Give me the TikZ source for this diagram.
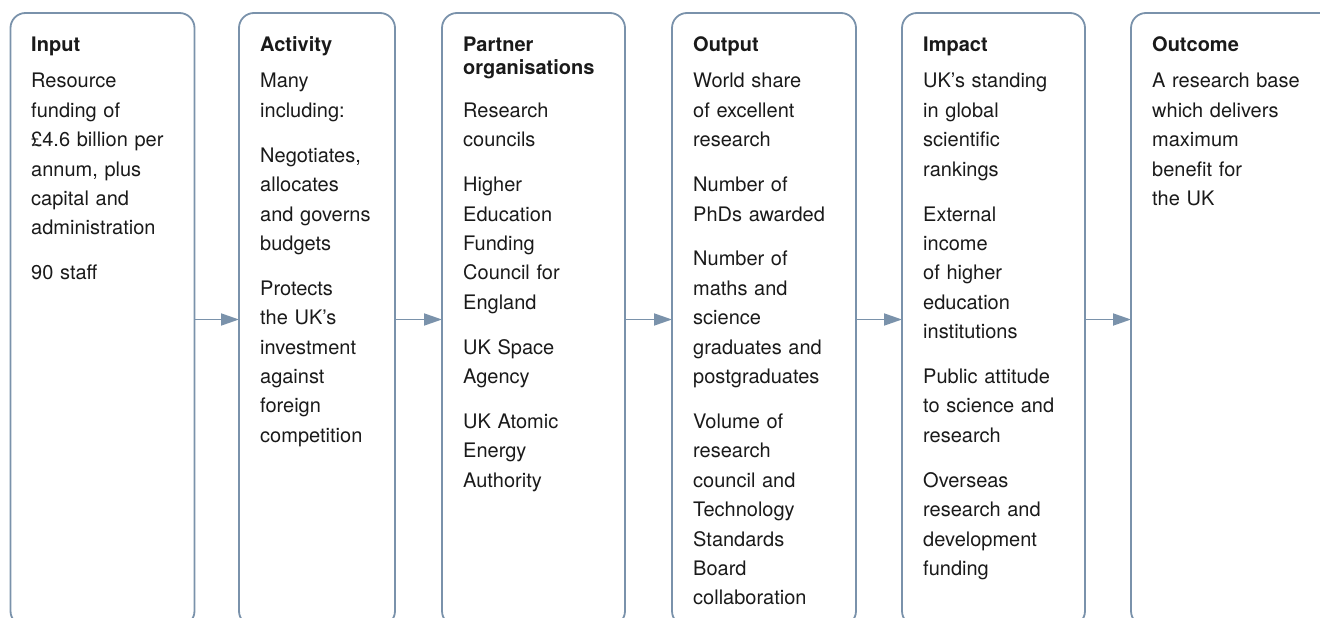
\documentclass[tikz,border=0pt]{standalone}
\usepackage{fontspec}
\setmainfont{TeX Gyre Heros}
\usetikzlibrary{arrows.meta}

\definecolor{framecol}{RGB}{122,146,171}
\definecolor{textcol}{RGB}{26,26,26}

\tikzset{
  stage/.style={draw=framecol, line width=1.8pt, rounded corners=15pt,
    minimum height=613pt, inner sep=0pt, outer sep=0pt},
  flow/.style={draw=framecol, line width=1.8pt,
    -{Triangle[length=18pt,width=12pt]}},
  heading/.style={anchor=base west, inner sep=0pt, text=textcol, text width=175pt,
    align=left, font=\fontsize{20}{22.5}\selectfont\bfseries},
  body/.style={anchor=base west, inner sep=0pt, text=textcol, text width=175pt,
    align=left, font=\fontsize{20}{29.4}\selectfont},
}
\newcommand{\pargap}{\\[15.5pt]}

\begin{document}
\begin{tikzpicture}[x=1pt, y=-1pt]
  \useasboundingbox (0,0) rectangle (1320,618);
  \clip (0,0) rectangle (1320,618);

  % Draw the six stages (open at the bottom)
  \node[stage, minimum width=184pt] (input)    at (102.5,319.5) {};
  \node[stage, minimum width=156pt] (activity) at (317,319.5) {};
  \node[stage, minimum width=183pt] (partner)  at (533.5,319.5) {};
  \node[stage, minimum width=184pt] (output)   at (764,319.5) {};
  \node[stage, minimum width=183pt] (impact)   at (993.5,319.5) {};
  \node[stage, minimum width=214pt] (outcome)  at (1238,319.5) {};

  % Headings
  \node[heading] (inputhead)    at (31,52)   {Input};
  \node[heading] (activityhead) at (260,52)  {Activity};
  \node[heading] (partnerhead)  at (463,52)  {Partner\\organisations};
  \node[heading] (outputhead)   at (693,52)  {Output};
  \node[heading] (impacthead)   at (923,52)  {Impact};
  \node[heading] (outcomehead)  at (1152,52) {Outcome};

  % Texts
  \node[body] (inputtext) at (31,88) {Resource\\funding of\\£4.6 billion per\\annum, plus\\capital and\\administration\pargap
    90 staff};
  \node[body] (activitytext) at (260,88) {Many\\including:\pargap
    Negotiates,\\allocates\\and governs\\budgets\pargap
    Protects\\the UK's\\investment\\against\\foreign\\competition};
  \node[body] (partnertext) at (463,117.4) {Research\\councils\pargap
    Higher\\Education\\Funding\\Council for\\England\pargap
    UK Space\\Agency\pargap
    UK Atomic\\Energy\\Authority};
  \node[body] (outputtext) at (693,88) {World share\\of excellent\\research\pargap
    Number of\\PhDs awarded\pargap
    Number of\\maths and\\science\\graduates and\\postgraduates\pargap
    Volume of\\research\\council and\\Technology\\Standards\\Board\\collaboration};
  \node[body] (impacttext) at (923,88) {UK's standing\\in global\\scientific\\rankings\pargap
    External\\income\\of higher\\education\\institutions\pargap
    Public attitude\\to science and\\research\pargap
    Overseas\\research and\\development\\funding};
  \node[body] (outcometext) at (1152,88) {A research base\\which delivers\\maximum\\benefit for\\the UK};

  % Connect the stages
  \draw[flow] (input) -- (activity);
  \draw[flow] (activity) -- (partner);
  \draw[flow] (partner) -- (output);
  \draw[flow] (output) -- (impact);
  \draw[flow] (impact) -- (outcome);
\end{tikzpicture}
\end{document}
